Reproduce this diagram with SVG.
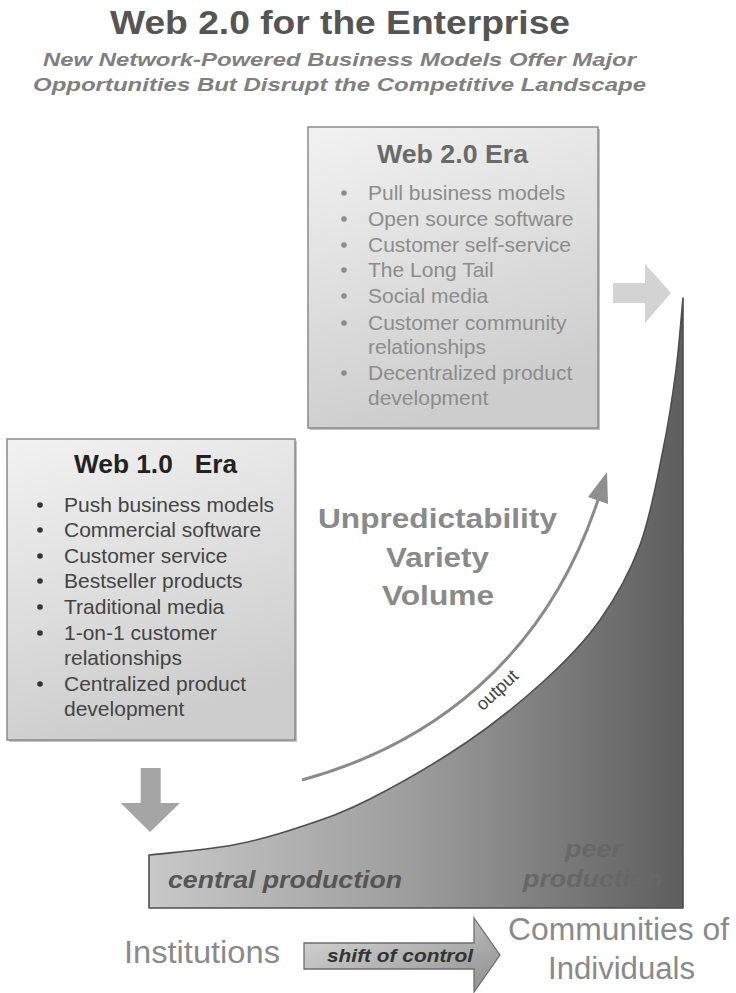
<svg xmlns="http://www.w3.org/2000/svg" width="736" height="993" viewBox="0 0 736 993">
  <style>
    text { font-family: "Liberation Sans", Arial, sans-serif; }
    .title { font-size: 34px; font-weight: bold; fill: #555; }
    .sub { font-size: 19px; font-weight: bold; font-style: italic; fill: #808080; }
    .boxhead2 { font-size: 25px; font-weight: bold; fill: #6a6a6a; text-anchor: middle; }
    .boxhead1 { font-size: 25px; font-weight: bold; fill: #222; text-anchor: middle; white-space: pre; }
    .item2 { font-size: 21px; fill: #8c8c8c; }
    .item1 { font-size: 21px; fill: #444; }
    .dot2 { fill: #8c8c8c; }
    .dot1 { fill: #333; }
    .big { font-size: 28px; font-weight: bold; fill: #8a8a8a; text-anchor: middle; }
    .prod { font-size: 23px; font-weight: bold; font-style: italic; }
    .side { font-size: 31px; fill: #8a8a8a; }
    .box { stroke: #8a8a8a; stroke-width: 1.5; }
    .shadow { fill: #9a9a9a; opacity: 0.6; }
  </style>
  <defs>
    <linearGradient id="boxFill" x1="0" y1="0" x2="0.3" y2="1">
      <stop offset="0" stop-color="#f2f2f2"/>
      <stop offset="1" stop-color="#cdcdcd"/>
    </linearGradient>
    <linearGradient id="curveFill" gradientUnits="userSpaceOnUse" x1="150" y1="0" x2="683" y2="0">
      <stop offset="0" stop-color="#c8c8c8"/>
      <stop offset="0.5" stop-color="#9c9c9c"/>
      <stop offset="1" stop-color="#5e5e5e"/>
    </linearGradient>
    <linearGradient id="shiftFill" x1="0" y1="0" x2="1" y2="1">
      <stop offset="0" stop-color="#dcdcdc"/>
      <stop offset="1" stop-color="#8e8e8e"/>
    </linearGradient>
  </defs>

  <!-- heading -->
  <g id="heading">
    <text class="title" x="110" y="34" textLength="460" lengthAdjust="spacingAndGlyphs">Web 2.0 for the Enterprise</text>
    <text class="sub" x="43" y="66" textLength="593" lengthAdjust="spacingAndGlyphs">New Network-Powered Business Models Offer Major</text>
    <text class="sub" x="33" y="91" textLength="613" lengthAdjust="spacingAndGlyphs">Opportunities But Disrupt the Competitive Landscape</text>
  </g>

  <!-- production curve: central to peer production -->
  <g id="production">
    <path d="M149,855 C177,852 207.8,849.7 233,845 C258.2,840.3 277.2,834.7 300,827 C322.8,819.3 342.2,813.2 370,799 C397.8,784.8 437.8,761.8 467,742 C496.2,722.2 522.8,700.3 545,680 C567.2,659.7 584.2,642.5 600,620 C615.8,597.5 629.5,573.3 640,545 C650.5,516.7 657,479.2 663,450 C669,420.8 672.7,395.3 676,370 C679.3,344.7 680.7,322 683,298 L683,908 L149,908 Z" fill="url(#curveFill)" stroke="#4e4e4e" stroke-width="1.6" stroke-linejoin="round"/>
    <text class="prod" x="168" y="888" fill="#555" textLength="234" lengthAdjust="spacingAndGlyphs">central production</text>
    <text class="prod" x="565" y="857" fill="#676767" textLength="57" lengthAdjust="spacingAndGlyphs">peer</text>
    <text class="prod" x="523" y="887" fill="#676767" textLength="140" lengthAdjust="spacingAndGlyphs">production</text>
  </g>

  <!-- Web 2.0 era box -->
  <g id="web20">
    <rect class="shadow" x="310" y="129" width="290" height="301"/>
    <rect class="box" x="308" y="127" width="290" height="301" fill="url(#boxFill)"/>
    <text class="boxhead2" x="452.5" y="163" textLength="151" lengthAdjust="spacingAndGlyphs">Web 2.0 Era</text>
    <circle class="dot2" cx="344" cy="193" r="2.8"/>
    <text class="item2" x="368" y="200">Pull business models</text>
    <circle class="dot2" cx="344" cy="219" r="2.8"/>
    <text class="item2" x="368" y="226">Open source software</text>
    <circle class="dot2" cx="344" cy="245" r="2.8"/>
    <text class="item2" x="368" y="252">Customer self-service</text>
    <circle class="dot2" cx="344" cy="270" r="2.8"/>
    <text class="item2" x="368" y="277">The Long Tail</text>
    <circle class="dot2" cx="344" cy="296" r="2.8"/>
    <text class="item2" x="368" y="303">Social media</text>
    <circle class="dot2" cx="344" cy="323" r="2.8"/>
    <text class="item2" x="368" y="330">Customer community</text>
    <text class="item2" x="368" y="354">relationships</text>
    <circle class="dot2" cx="344" cy="373" r="2.8"/>
    <text class="item2" x="368" y="380">Decentralized product</text>
    <text class="item2" x="368" y="405">development</text>
  </g>

  <!-- Web 1.0 era box -->
  <g id="web10">
    <rect class="shadow" x="9" y="441" width="288" height="301"/>
    <rect class="box" x="7" y="439" width="288" height="301" fill="url(#boxFill)"/>
    <text class="boxhead1" x="155.5" y="473" textLength="163" lengthAdjust="spacingAndGlyphs">Web 1.0   Era</text>
    <circle class="dot1" cx="40" cy="505" r="2.8"/>
    <text class="item1" x="64" y="512">Push business models</text>
    <circle class="dot1" cx="40" cy="530" r="2.8"/>
    <text class="item1" x="64" y="537">Commercial software</text>
    <circle class="dot1" cx="40" cy="556" r="2.8"/>
    <text class="item1" x="64" y="563">Customer service</text>
    <circle class="dot1" cx="40" cy="581" r="2.8"/>
    <text class="item1" x="64" y="588">Bestseller products</text>
    <circle class="dot1" cx="40" cy="607" r="2.8"/>
    <text class="item1" x="64" y="614">Traditional media</text>
    <circle class="dot1" cx="40" cy="633" r="2.8"/>
    <text class="item1" x="64" y="640">1-on-1 customer</text>
    <text class="item1" x="64" y="665">relationships</text>
    <circle class="dot1" cx="40" cy="684" r="2.8"/>
    <text class="item1" x="64" y="691">Centralized product</text>
    <text class="item1" x="64" y="716">development</text>
  </g>

  <!-- trend words -->
  <g id="trends">
    <text class="big" x="437.5" y="528" textLength="239" lengthAdjust="spacingAndGlyphs">Unpredictability</text>
    <text class="big" x="437.5" y="567" textLength="103" lengthAdjust="spacingAndGlyphs">Variety</text>
    <text class="big" x="438" y="605" textLength="112" lengthAdjust="spacingAndGlyphs">Volume</text>
  </g>

  <!-- bottom labels -->
  <g id="institutions">
    <text class="side" x="124" y="963" textLength="156" lengthAdjust="spacingAndGlyphs">Institutions</text>
  </g>
  <g id="communities">
    <text class="side" x="618.5" y="940" text-anchor="middle" textLength="221" lengthAdjust="spacingAndGlyphs">Communities of</text>
    <text class="side" x="621.5" y="979" text-anchor="middle" textLength="147" lengthAdjust="spacingAndGlyphs">Individuals</text>
  </g>

  <!-- arrows -->
  <g id="connectors">
    <!-- output curve -->
    <path d="M302,780 C430,745 545,660 598,500" fill="none" stroke="#8a8a8a" stroke-width="3"/>
    <polygon points="607,472 608,504 588,497" fill="#8f8f8f"/>
    <text x="497" y="696" font-size="18" fill="#444" text-anchor="middle" transform="rotate(-43 497 690)">output</text>
    <!-- era transition arrows -->
    <polygon points="613,283 645,283 645,264 671,293 645,323 645,303 613,303" fill="#d3d3d3"/>
    <polygon points="140.7,768 160.7,768 160.7,803 180,803 150,832 120.7,803 140.7,803" fill="#a5a5a5"/>
    <!-- shift of control -->
    <polygon points="304,943 474,943 474,918 500,955 474,992 474,969 304,969" fill="url(#shiftFill)" stroke="#6e6e6e" stroke-width="1.3" stroke-linejoin="miter"/>
    <text x="327" y="962" font-size="18" font-weight="bold" font-style="italic" fill="#333" textLength="146" lengthAdjust="spacingAndGlyphs">shift of control</text>
  </g>
</svg>
